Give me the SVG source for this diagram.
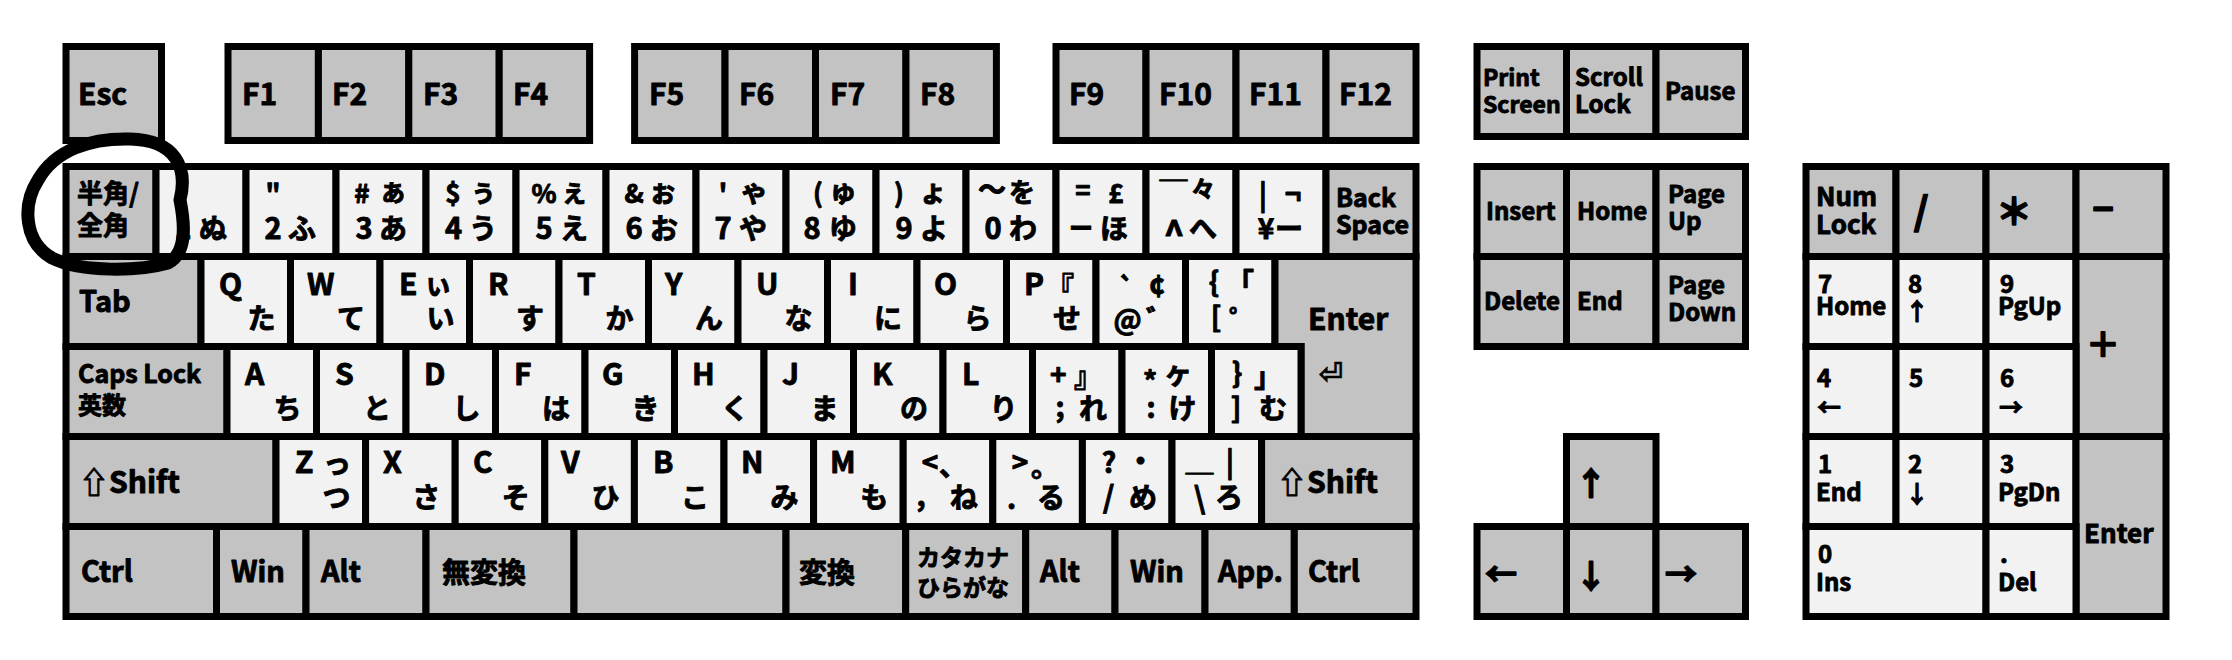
<svg xmlns="http://www.w3.org/2000/svg" width="2232" height="660" viewBox="0 0 2232 660">
<style>
.k{stroke:#000;stroke-width:7;stroke-linejoin:miter}
.g{fill:#c3c3c3}
.w{fill:#f2f2f2}
text{font-family:"Noto Sans CJK JP","Noto Sans",sans-serif;font-weight:700;fill:#000;stroke:#000;stroke-width:0.9;stroke-linejoin:round}
.m{text-anchor:middle}
.e{text-anchor:end}
.f30{font-size:30px}
.f29{font-size:29px}
.f28{font-size:28px}
.f26{font-size:26px}
.f25{font-size:25px}
.f24{font-size:24px}
.f23{font-size:23px}
.ret{font-family:"DejaVu Sans",sans-serif;font-weight:700;font-size:30px;stroke-width:0.4}
</style>
<rect width="2232" height="660" fill="#fff"/>

<g id="function-row">
<g id="key-esc"><rect class="k g" x="66" y="46.5" width="95.5" height="94"/><text class="f30" x="78" y="105">Esc</text></g>
<g id="key-f1"><rect class="k g" x="228" y="46.5" width="90.4" height="94"/><text class="f30" x="242" y="105">F1</text></g>
<g id="key-f2"><rect class="k g" x="318.4" y="46.5" width="90.4" height="94"/><text class="f30" x="332" y="105">F2</text></g>
<g id="key-f3"><rect class="k g" x="408.8" y="46.5" width="90.4" height="94"/><text class="f30" x="423" y="105">F3</text></g>
<g id="key-f4"><rect class="k g" x="499.2" y="46.5" width="90.4" height="94"/><text class="f30" x="513" y="105">F4</text></g>
<g id="key-f5"><rect class="k g" x="634.6" y="46.5" width="90.45" height="94"/><text class="f30" x="649" y="105">F5</text></g>
<g id="key-f6"><rect class="k g" x="725.05" y="46.5" width="90.45" height="94"/><text class="f30" x="739" y="105">F6</text></g>
<g id="key-f7"><rect class="k g" x="815.5" y="46.5" width="90.45" height="94"/><text class="f30" x="830" y="105">F7</text></g>
<g id="key-f8"><rect class="k g" x="905.95" y="46.5" width="90.45" height="94"/><text class="f30" x="920" y="105">F8</text></g>
<g id="key-f9"><rect class="k g" x="1056" y="46.5" width="90" height="94"/><text class="f30" x="1069" y="105">F9</text></g>
<g id="key-f10"><rect class="k g" x="1146" y="46.5" width="90" height="94"/><text class="f30" x="1159" y="105">F10</text></g>
<g id="key-f11"><rect class="k g" x="1236" y="46.5" width="90" height="94"/><text class="f30" x="1249" y="105">F11</text></g>
<g id="key-f12"><rect class="k g" x="1326" y="46.5" width="90" height="94"/><text class="f30" x="1339" y="105">F12</text></g>
</g>

<g id="number-row">
<g id="key-hankaku"><rect class="k g" x="66" y="166.5" width="90" height="90"/><text class="f26"><tspan x="77" y="203">半角/</tspan><tspan x="77" y="235">全角</tspan></text></g>
<g id="key-1"><rect class="k w" x="156" y="166.5" width="90" height="90"/><text><tspan class="f26 m" x="183" y="203">!</tspan><tspan class="f29 m" x="183" y="239">1</tspan><tspan class="f28 m" x="213" y="239">ぬ</tspan></text></g>
<g id="key-2"><rect class="k w" x="246" y="166.5" width="90" height="90"/><text><tspan class="f26 m" x="273" y="203">"</tspan><tspan class="f29 m" x="273" y="239">2</tspan><tspan class="f28 m" x="302" y="239">ふ</tspan></text></g>
<g id="key-3"><rect class="k w" x="336" y="166.5" width="90" height="90"/><text><tspan class="f26 m" x="362" y="203">#</tspan><tspan class="f28 m" x="393" y="202">ぁ</tspan><tspan class="f29 m" x="364" y="239">3</tspan><tspan class="f28 m" x="393" y="239">あ</tspan></text></g>
<g id="key-4"><rect class="k w" x="426" y="166.5" width="90" height="90"/><text><tspan class="f26 m" x="453" y="203">$</tspan><tspan class="f28 m" x="483" y="202">ぅ</tspan><tspan class="f29 m" x="453.5" y="239">4</tspan><tspan class="f28 m" x="483" y="239">う</tspan></text></g>
<g id="key-5"><rect class="k w" x="516" y="166.5" width="90" height="90"/><text><tspan class="f26 m" x="544" y="203">%</tspan><tspan class="f28 m" x="574" y="202">ぇ</tspan><tspan class="f29 m" x="544" y="239">5</tspan><tspan class="f28 m" x="574" y="239">え</tspan></text></g>
<g id="key-6"><rect class="k w" x="606" y="166.5" width="90" height="90"/><text><tspan class="f26 m" x="634" y="203">&amp;</tspan><tspan class="f28 m" x="663" y="202">ぉ</tspan><tspan class="f29 m" x="634" y="239">6</tspan><tspan class="f28 m" x="664" y="239">お</tspan></text></g>
<g id="key-7"><rect class="k w" x="696" y="166.5" width="90" height="90"/><text><tspan class="f26 m" x="723" y="203">'</tspan><tspan class="f28 m" x="754" y="202">ゃ</tspan><tspan class="f29 m" x="723" y="239">7</tspan><tspan class="f28 m" x="753" y="239">や</tspan></text></g>
<g id="key-8"><rect class="k w" x="786" y="166.5" width="90" height="90"/><text><tspan class="f26 m" x="818" y="203">(</tspan><tspan class="f28 m" x="843" y="202">ゅ</tspan><tspan class="f29 m" x="812" y="239">8</tspan><tspan class="f28 m" x="843" y="239">ゆ</tspan></text></g>
<g id="key-9"><rect class="k w" x="876" y="166.5" width="90" height="90"/><text><tspan class="f26 m" x="899" y="203">)</tspan><tspan class="f28 m" x="933" y="202">ょ</tspan><tspan class="f29 m" x="904" y="239">9</tspan><tspan class="f28 m" x="934" y="239">よ</tspan></text></g>
<g id="key-0"><rect class="k w" x="966" y="166.5" width="90" height="90"/><text><tspan class="f28 m" x="992" y="200">〜</tspan><tspan class="f26 m" x="1022" y="202">を</tspan><tspan class="f29 m" x="993" y="239">0</tspan><tspan class="f28 m" x="1023" y="239">わ</tspan></text></g>
<g id="key-minus"><rect class="k w" x="1056" y="166.5" width="90" height="90"/><text><tspan class="f26 m" x="1083" y="200">=</tspan><tspan class="f26 m" x="1116" y="203">£</tspan><tspan class="f24 m" x="1081" y="237">ー</tspan><tspan class="f28 m" x="1114" y="239">ほ</tspan></text></g>
<g id="key-caret"><rect class="k w" x="1146" y="166.5" width="90" height="90"/><text><tspan class="f28 m" x="1173.5" y="205">￣</tspan><tspan class="f24 m" x="1203" y="198">々</tspan><tspan class="m" style="font-size:36px" x="1174" y="247">^</tspan><tspan class="f28 m" x="1203" y="239">へ</tspan></text></g>
<g id="key-yen"><rect class="k w" x="1236" y="166.5" width="90" height="90"/><text><tspan class="f28 m" x="1263" y="205">|</tspan><tspan class="f28 m" x="1293" y="204">¬</tspan><tspan class="f28 m" x="1266" y="239">¥</tspan><tspan class="f28 m" x="1289" y="239">ー</tspan></text></g>
<g id="key-backspace"><rect class="k g" x="1326" y="166.5" width="90" height="90"/><text class="f25"><tspan x="1336" y="207">Back</tspan><tspan x="1336" y="234">Space</tspan></text></g>
</g>

<g id="qwerty-row">
<g id="key-tab"><rect class="k g" x="66" y="256.5" width="135" height="90"/><text class="f29" x="79" y="312">Tab</text></g>
<g id="key-q"><rect class="k w" x="201" y="256.5" width="89.5" height="90"/><text><tspan class="f30" x="219" y="295">Q</tspan><tspan class="f28 e" x="275.5" y="329">た</tspan></text></g>
<g id="key-w"><rect class="k w" x="290.5" y="256.5" width="89.5" height="90"/><text><tspan class="f30" x="307" y="295">W</tspan><tspan class="f28 e" x="365" y="329">て</tspan></text></g>
<g id="key-e"><rect class="k w" x="380" y="256.5" width="89.5" height="90"/><text><tspan class="f30" x="399" y="295">E</tspan><tspan class="f28" x="424" y="295">ぃ</tspan><tspan class="f28 e" x="454.5" y="329">い</tspan></text></g>
<g id="key-r"><rect class="k w" x="469.5" y="256.5" width="89.5" height="90"/><text><tspan class="f30" x="488" y="295">R</tspan><tspan class="f28 e" x="544" y="329">す</tspan></text></g>
<g id="key-t"><rect class="k w" x="559" y="256.5" width="89.5" height="90"/><text><tspan class="f30" x="577" y="295">T</tspan><tspan class="f28 e" x="633.5" y="329">か</tspan></text></g>
<g id="key-y"><rect class="k w" x="648.5" y="256.5" width="89.5" height="90"/><text><tspan class="f30" x="665" y="295">Y</tspan><tspan class="f28 e" x="723" y="329">ん</tspan></text></g>
<g id="key-u"><rect class="k w" x="738" y="256.5" width="89.5" height="90"/><text><tspan class="f30" x="756" y="295">U</tspan><tspan class="f28 e" x="812.5" y="329">な</tspan></text></g>
<g id="key-i"><rect class="k w" x="827.5" y="256.5" width="89.5" height="90"/><text><tspan class="f30" x="848" y="295">I</tspan><tspan class="f28 e" x="902" y="329">に</tspan></text></g>
<g id="key-o"><rect class="k w" x="917" y="256.5" width="89.5" height="90"/><text><tspan class="f30" x="934" y="295">O</tspan><tspan class="f28 e" x="991.5" y="329">ら</tspan></text></g>
<g id="key-p"><rect class="k w" x="1006.5" y="256.5" width="89.5" height="90"/><text><tspan class="f30" x="1024" y="295">P</tspan><tspan class="f28" x="1046" y="298">『</tspan><tspan class="f28 e" x="1081" y="329">せ</tspan></text></g>
<g id="key-at"><rect class="k w" x="1096" y="256.5" width="89.5" height="90"/><text><tspan class="f26 m" x="1126.5" y="298">`</tspan><tspan class="f28 m" x="1157" y="296">¢</tspan><tspan class="f28 m" x="1127.5" y="330">@</tspan><tspan class="f28" x="1146" y="331">゛</tspan></text></g>
<g id="key-bracket-open"><rect class="k w" x="1185.5" y="256.5" width="89.5" height="90"/><text><tspan class="f28 m" x="1214" y="292">{</tspan><tspan class="f28" x="1226" y="294">「</tspan><tspan class="f28 m" x="1216" y="327">[</tspan><tspan class="f28" x="1229" y="331">゜</tspan></text></g>
<g id="key-enter"><path class="k g" d="M1275,256.5H1416V436.5H1301V346.5H1275Z"/><text><tspan class="f30" x="1308" y="330">Enter</tspan><tspan class="ret m" x="1331" y="384">⏎</tspan></text></g>
</g>

<g id="home-row">
<g id="key-caps"><rect class="k g" x="66" y="346.5" width="161" height="90"/><text><tspan class="f25" x="78" y="383">Caps Lock</tspan><tspan class="f24" x="78" y="414">英数</tspan></text></g>
<g id="key-a"><rect class="k w" x="227" y="346.5" width="89.5" height="90"/><text><tspan class="f30" x="245" y="385">A</tspan><tspan class="f28 e" x="301.5" y="419">ち</tspan></text></g>
<g id="key-s"><rect class="k w" x="316.5" y="346.5" width="89.5" height="90"/><text><tspan class="f30" x="335" y="385">S</tspan><tspan class="f28 e" x="391" y="419">と</tspan></text></g>
<g id="key-d"><rect class="k w" x="406" y="346.5" width="89.5" height="90"/><text><tspan class="f30" x="424" y="385">D</tspan><tspan class="f28 e" x="480.5" y="419">し</tspan></text></g>
<g id="key-f"><rect class="k w" x="495.5" y="346.5" width="89.5" height="90"/><text><tspan class="f30" x="514" y="385">F</tspan><tspan class="f28 e" x="570" y="419">は</tspan></text></g>
<g id="key-g"><rect class="k w" x="585" y="346.5" width="89.5" height="90"/><text><tspan class="f30" x="602" y="385">G</tspan><tspan class="f28 e" x="659.5" y="419">き</tspan></text></g>
<g id="key-h"><rect class="k w" x="674.5" y="346.5" width="89.5" height="90"/><text><tspan class="f30" x="692" y="385">H</tspan><tspan class="f28 e" x="749" y="419">く</tspan></text></g>
<g id="key-j"><rect class="k w" x="764" y="346.5" width="89.5" height="90"/><text><tspan class="f30" x="782" y="385">J</tspan><tspan class="f28 e" x="838.5" y="419">ま</tspan></text></g>
<g id="key-k"><rect class="k w" x="853.5" y="346.5" width="89.5" height="90"/><text><tspan class="f30" x="872" y="385">K</tspan><tspan class="f28 e" x="928" y="419">の</tspan></text></g>
<g id="key-l"><rect class="k w" x="943" y="346.5" width="89.5" height="90"/><text><tspan class="f30" x="962" y="385">L</tspan><tspan class="f28 e" x="1017.5" y="419">り</tspan></text></g>
<g id="key-semicolon"><rect class="k w" x="1032.5" y="346.5" width="89.5" height="90"/><text><tspan class="f28" x="1050" y="385">+</tspan><tspan class="f28" x="1074" y="387">』</tspan><tspan class="f28 m" x="1060" y="417">;</tspan><tspan class="f28 e" x="1107" y="419">れ</tspan></text></g>
<g id="key-colon"><rect class="k w" x="1122" y="346.5" width="89.5" height="90"/><text><tspan class="f28 m" x="1150" y="392">*</tspan><tspan class="f28 m" x="1178" y="384">ヶ</tspan><tspan class="f28 m" x="1151" y="418">:</tspan><tspan class="f28 e" x="1196.5" y="419">け</tspan></text></g>
<g id="key-bracket-close"><rect class="k w" x="1211.5" y="346.5" width="89.5" height="90"/><text><tspan class="f28 m" x="1237" y="383">}</tspan><tspan class="f28" x="1254" y="387">」</tspan><tspan class="f28 m" x="1236" y="418">]</tspan><tspan class="f28 e" x="1287" y="419">む</tspan></text></g>
</g>

<g id="shift-row">
<g id="key-lshift"><rect class="k g" x="66" y="436.5" width="210" height="90"/><text class="f30" x="79" y="493">⇧Shift</text></g>
<g id="key-z"><rect class="k w" x="276" y="436.5" width="89.6" height="90"/><text><tspan class="f30" x="295" y="473">Z</tspan><tspan class="f28 m" x="337" y="474">っ</tspan><tspan class="f28 e" x="350.6" y="508">つ</tspan></text></g>
<g id="key-x"><rect class="k w" x="365.6" y="436.5" width="89.6" height="90"/><text><tspan class="f30" x="383" y="473">X</tspan><tspan class="f28 e" x="440.2" y="508">さ</tspan></text></g>
<g id="key-c"><rect class="k w" x="455.2" y="436.5" width="89.6" height="90"/><text><tspan class="f30" x="473" y="473">C</tspan><tspan class="f28 e" x="529.8" y="508">そ</tspan></text></g>
<g id="key-v"><rect class="k w" x="544.8" y="436.5" width="89.6" height="90"/><text><tspan class="f30" x="561" y="473">V</tspan><tspan class="f28 e" x="619.4" y="508">ひ</tspan></text></g>
<g id="key-b"><rect class="k w" x="634.4" y="436.5" width="89.6" height="90"/><text><tspan class="f30" x="653" y="473">B</tspan><tspan class="f28 e" x="709" y="508">こ</tspan></text></g>
<g id="key-n"><rect class="k w" x="724" y="436.5" width="89.6" height="90"/><text><tspan class="f30" x="741" y="473">N</tspan><tspan class="f28 e" x="798.6" y="508">み</tspan></text></g>
<g id="key-m"><rect class="k w" x="813.6" y="436.5" width="89.6" height="90"/><text><tspan class="f30" x="830" y="473">M</tspan><tspan class="f28 e" x="888.2" y="508">も</tspan></text></g>
<g id="key-comma"><rect class="k w" x="903.2" y="436.5" width="89.6" height="90"/><text><tspan class="f28 m" x="930" y="473">&lt;</tspan><tspan class="f28" x="939" y="476">、</tspan><tspan class="f28 m" x="921" y="506">,</tspan><tspan class="f28 e" x="977.8" y="508">ね</tspan></text></g>
<g id="key-period"><rect class="k w" x="992.8" y="436.5" width="89.6" height="90"/><text><tspan class="f28 m" x="1020" y="473">&gt;</tspan><tspan class="f28" x="1031" y="477">。</tspan><tspan class="f28 m" x="1011.5" y="509">.</tspan><tspan class="f28 e" x="1065" y="508">る</tspan></text></g>
<g id="key-slash"><rect class="k w" x="1082.4" y="436.5" width="89.6" height="90"/><text><tspan class="f28 m" x="1109" y="473">?</tspan><tspan class="f28 m" x="1140.5" y="472">・</tspan><tspan class="f30 m" x="1108.5" y="508">/</tspan><tspan class="f28 e" x="1157" y="508">め</tspan></text></g>
<g id="key-backslash"><rect class="k w" x="1172" y="436.5" width="89.6" height="90"/><text><tspan class="f28 m" x="1199.5" y="471">＿</tspan><tspan class="f28 m" x="1230" y="472">|</tspan><tspan class="f30 m" x="1199.5" y="509">\</tspan><tspan class="f28 e" x="1243" y="508">ろ</tspan></text></g>
<g id="key-rshift"><rect class="k g" x="1261.6" y="436.5" width="154.4" height="90"/><text class="f30" x="1277" y="493">⇧Shift</text></g>
</g>

<g id="bottom-row">
<g id="key-lctrl"><rect class="k g" x="66" y="526.5" width="150.5" height="90"/><text class="f29" x="81" y="582">Ctrl</text></g>
<g id="key-lwin"><rect class="k g" x="216.5" y="526.5" width="89.5" height="90"/><text class="f29" x="231" y="582">Win</text></g>
<g id="key-lalt"><rect class="k g" x="306" y="526.5" width="120" height="90"/><text class="f29" x="321" y="582">Alt</text></g>
<g id="key-muhenkan"><rect class="k g" x="426" y="526.5" width="148" height="90"/><text class="f28" x="442" y="583">無変換</text></g>
<g id="key-space"><rect class="k g" x="574" y="526.5" width="212" height="90"/></g>
<g id="key-henkan"><rect class="k g" x="786" y="526.5" width="119.7" height="90"/><text class="f28" x="799" y="583">変換</text></g>
<g id="key-kana"><rect class="k g" x="905.7" y="526.5" width="120" height="90"/><text class="f23"><tspan x="917" y="566">カタカナ</tspan><tspan x="917" y="596">ひらがな</tspan></text></g>
<g id="key-ralt"><rect class="k g" x="1025.7" y="526.5" width="89.3" height="90"/><text class="f29" x="1040" y="582">Alt</text></g>
<g id="key-rwin"><rect class="k g" x="1115" y="526.5" width="90" height="90"/><text class="f29" x="1130" y="582">Win</text></g>
<g id="key-app"><rect class="k g" x="1205" y="526.5" width="89.3" height="90"/><text class="f29" x="1218" y="582">App.</text></g>
<g id="key-rctrl"><rect class="k g" x="1294.3" y="526.5" width="121.7" height="90"/><text class="f29" x="1308" y="582">Ctrl</text></g>
</g>

<g id="navigation">
<g id="key-prtsc"><rect class="k g" x="1477" y="46.5" width="89.5" height="90"/><text class="f23"><tspan x="1483" y="86">Print</tspan><tspan x="1483" y="113">Screen</tspan></text></g>
<g id="key-scrlk"><rect class="k g" x="1566.5" y="46.5" width="89.5" height="90"/><text class="f24"><tspan x="1575" y="86">Scroll</tspan><tspan x="1575" y="113">Lock</tspan></text></g>
<g id="key-pause"><rect class="k g" x="1656" y="46.5" width="89.5" height="90"/><text class="f24" x="1665" y="100">Pause</text></g>
<g id="key-insert"><rect class="k g" x="1477" y="166.5" width="89.5" height="90"/><text class="f24" x="1486" y="220">Insert</text></g>
<g id="key-home"><rect class="k g" x="1566.5" y="166.5" width="89.5" height="90"/><text class="f24" x="1577" y="220">Home</text></g>
<g id="key-pgup"><rect class="k g" x="1656" y="166.5" width="89.5" height="90"/><text class="f24"><tspan x="1668" y="203">Page</tspan><tspan x="1668" y="230">Up</tspan></text></g>
<g id="key-delete"><rect class="k g" x="1477" y="256.5" width="89.5" height="90"/><text class="f24" x="1484" y="310">Delete</text></g>
<g id="key-end"><rect class="k g" x="1566.5" y="256.5" width="89.5" height="90"/><text class="f24" x="1577" y="310">End</text></g>
<g id="key-pgdn"><rect class="k g" x="1656" y="256.5" width="89.5" height="90"/><text class="f24"><tspan x="1668" y="294">Page</tspan><tspan x="1668" y="321">Down</tspan></text></g>
<g id="key-up"><rect class="k g" x="1566.5" y="436.5" width="89.5" height="90"/><text class="m" style="font-size:32px;stroke-width:1.6" x="1591" y="495">↑</text></g>
<g id="key-left"><rect class="k g" x="1477" y="526.5" width="89.5" height="90"/><text class="m" style="font-size:32px;stroke-width:1.6" x="1501" y="586">←</text></g>
<g id="key-down"><rect class="k g" x="1566.5" y="526.5" width="89.5" height="90"/><text class="m" style="font-size:32px;stroke-width:1.6" x="1591" y="588">↓</text></g>
<g id="key-right"><rect class="k g" x="1656" y="526.5" width="89.5" height="90"/><text class="m" style="font-size:32px;stroke-width:1.6" x="1681" y="586">→</text></g>
</g>

<g id="numpad">
<g id="key-numlock"><rect class="k g" x="1806" y="166.5" width="90" height="90"/><text class="f26"><tspan x="1816" y="206">Num</tspan><tspan x="1816" y="234">Lock</tspan></text></g>
<g id="key-np-divide"><rect class="k g" x="1896" y="166.5" width="90" height="90"/><text class="m" style="font-size:38px;stroke-width:1.5" x="1921" y="225">/</text></g>
<g id="key-np-multiply"><rect class="k g" x="1986" y="166.5" width="90" height="90"/><text class="m" style="font-size:36px;stroke-width:1.8" x="2014" y="225">＊</text></g>
<g id="key-np-minus"><rect class="k g" x="2076" y="166.5" width="90" height="90"/><text class="m" style="font-size:36px;stroke-width:1.5" x="2103" y="222">−</text></g>
<g id="key-np7"><rect class="k w" x="1806" y="256.5" width="90" height="90"/><text class="f24"><tspan x="1818" y="293">7</tspan><tspan x="1816" y="315">Home</tspan></text></g>
<g id="key-np8"><rect class="k w" x="1896" y="256.5" width="90" height="90"/><text class="f24"><tspan x="1908" y="293">8</tspan><tspan class="m" x="1917" y="320">↑</tspan></text></g>
<g id="key-np9"><rect class="k w" x="1986" y="256.5" width="90" height="90"/><text class="f24"><tspan x="2000" y="293">9</tspan><tspan x="1998" y="315">PgUp</tspan></text></g>
<g id="key-np-plus"><rect class="k g" x="2076" y="256.5" width="90" height="180"/><text class="m" style="font-size:34px;stroke-width:1.5" x="2103" y="357">＋</text></g>
<g id="key-np4"><rect class="k w" x="1806" y="346.5" width="90" height="90"/><text class="f24"><tspan x="1817" y="387">4</tspan><tspan class="m" x="1829" y="416">←</tspan></text></g>
<g id="key-np5"><rect class="k w" x="1896" y="346.5" width="90" height="90"/><text class="f24" x="1909" y="387">5</text></g>
<g id="key-np6"><rect class="k w" x="1986" y="346.5" width="90" height="90"/><text class="f24"><tspan x="2000" y="387">6</tspan><tspan class="m" x="2011" y="416">→</tspan></text></g>
<g id="key-np1"><rect class="k w" x="1806" y="436.5" width="90" height="90"/><text class="f24"><tspan x="1818" y="473">1</tspan><tspan x="1816" y="501">End</tspan></text></g>
<g id="key-np2"><rect class="k w" x="1896" y="436.5" width="90" height="90"/><text class="f24"><tspan x="1908" y="473">2</tspan><tspan class="m" x="1917" y="503">↓</tspan></text></g>
<g id="key-np3"><rect class="k w" x="1986" y="436.5" width="90" height="90"/><text class="f24"><tspan x="2000" y="473">3</tspan><tspan x="1998" y="501">PgDn</tspan></text></g>
<g id="key-np-enter"><rect class="k g" x="2076" y="436.5" width="90" height="180"/><text class="f26" x="2084" y="543">Enter</text></g>
<g id="key-np0"><rect class="k w" x="1806" y="526.5" width="180" height="90"/><text class="f24"><tspan x="1818" y="563">0</tspan><tspan x="1816" y="591">Ins</tspan></text></g>
<g id="key-np-dot"><rect class="k w" x="1986" y="526.5" width="90" height="90"/><text class="f24"><tspan x="2000" y="563">.</tspan><tspan x="1998" y="591">Del</tspan></text></g>
</g>

<g id="annotation">
<path d="M180,200 C188,168 176,140 130,139 C90,138 55,150 38,180 C22,205 24,242 52,258 C82,273 140,271 168,263 C187,253 185,225 180,200" fill="none" stroke="#000" stroke-width="13" stroke-linecap="round"/>
</g>
</svg>
